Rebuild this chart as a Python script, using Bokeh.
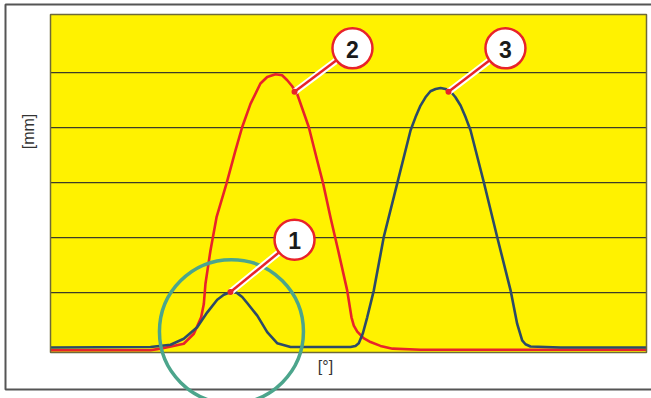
import numpy as np
from bokeh.plotting import figure
from bokeh.models import Range1d, Label, ColumnDataSource
from bokeh.core.properties import value
from bokeh.embed import file_html
from bokeh.resources import INLINE

# ---- data (x in degrees, y in mm) ----
red_x = [0, 60.4, 66.4, 80.5, 86.6, 91.0, 92.6, 93.6, 96.6, 100.3, 106.3, 111.7, 115.8, 120.8,
         126.8, 130.9, 135.9, 139.9, 143.0, 146.0, 149.0, 156.0, 161.1, 164.7, 169.1, 173.8,
         179.2, 181.8, 183.2, 185.3, 189.1, 193.3, 199.3, 206.6, 223.5, 360]
red_y = [-0.05, -0.05, -0.02, 0.07, 0.25, 0.55, 0.79, 1.16, 1.76, 2.37, 2.98, 3.58, 4.01, 4.43,
         4.80, 4.92, 4.97, 4.95, 4.86, 4.75, 4.61, 4.01, 3.40, 2.98, 2.37, 1.76,
         1.04, 0.55, 0.40, 0.29, 0.17, 0.10, 0.03, -0.02, -0.04, -0.04]

blue_x = [0, 60.4, 72.5, 80.5, 88.6, 94.7, 100.7, 104.7, 108.7, 110.7, 112.8, 115.8, 118.8,
          124.9, 130.9, 136.9, 145.0, 181.2, 184.2, 186.2, 188.7, 191.3, 195.3, 201.3, 209.4,
          217.5, 220.5, 223.5, 226.5, 229.5, 232.6, 235.6, 238.6, 241.6, 244.6, 247.7, 250.7,
          253.7, 261.7, 269.8, 277.9, 281.9, 284.9, 286.9, 289.9, 308.1, 360]
blue_y = [0, 0.01, 0.05, 0.16, 0.37, 0.64, 0.87, 0.96, 1.01, 1.01, 0.99, 0.92, 0.81,
          0.58, 0.28, 0.08, 0.01, 0.01, 0.03, 0.08, 0.26, 0.55, 1.04, 2.01, 2.98,
          3.95, 4.19, 4.40, 4.55, 4.66, 4.70, 4.72, 4.70, 4.66, 4.55, 4.40, 4.19,
          3.95, 3.01, 2.01, 1.04, 0.43, 0.13, 0.06, 0.02, 0.0, 0.0]

grid_ticks = [1, 2, 3, 4, 5]

callout_labels = ["1", "2", "3"]
callout_anchor_x = [108.7, 147.4, 240.4]
callout_anchor_y = [1.01, 4.65, 4.65]
callout_badge_x = [147.4, 182.4, 274.8]
callout_badge_y = [1.96, 5.44, 5.44]

highlight_x = [109.3]
highlight_y = [0.29]

x_label = "[°]"
y_label = "[mm]"

# ---- layout (pixels on the page) ----
W, H = 651, 398
PL, PR, PT, PB = 50, 646, 14, 352        # plot area edges
X0, X1 = 0, 360                          # degrees at plot left / right
YB = -0.09                               # mm at plot bottom
sx = (PR - PL) / (X1 - X0)               # px per degree
sy = 55.0                                # px per mm (grid spacing)

def px2x(px):
    return X0 + (px - PL) / sx

def py2y(py):
    return YB + (PB - py) / sy

p = figure(width=W, height=H, output_backend="svg", toolbar_location=None,
           x_range=Range1d(px2x(0), px2x(W)), y_range=Range1d(py2y(H), py2y(0)),
           min_border=0, background_fill_color="white", border_fill_color="white",
           outline_line_color=None,
           styles={"margin-right": "-8px", "margin-bottom": "-8px"})
p.axis.visible = False
p.grid.visible = False

yb, yt = py2y(PB), py2y(PT)
# plot area
p.quad(left=[X0], right=[X1], bottom=[yb], top=[yt], fill_color="#fff200", line_color=None)
p.segment(x0=[X0] * len(grid_ticks), x1=[X1] * len(grid_ticks), y0=grid_ticks, y1=grid_ticks,
          line_color="#3c3c28", line_width=1.2)

# outer frame
fx_l, fx_r = px2x(5), px2x(W + 20)
fy_t, fy_b = py2y(4), py2y(389)
p.line([fx_r, fx_l, fx_l, fx_r], [fy_t, fy_t, fy_b, fy_b], line_color="#555555", line_width=2)

p.line(red_x, red_y, line_color="#e8232a", line_width=2.6, line_join="round")
p.line(blue_x, blue_y, line_color="#2c4a68", line_width=2.6, line_join="round")

p.quad(left=[X0], right=[X1], bottom=[yb], top=[yt], fill_color=None,
       line_color="#6e6a3a", line_width=1.5)

# highlight circle
p.scatter(highlight_x, highlight_y, size=144, fill_color=None, line_color="#4ca58c",
          line_width=3.5)

# leaders
for ax, ay, bx, by in zip(callout_anchor_x, callout_anchor_y, callout_badge_x, callout_badge_y):
    p.line([ax, bx], [ay, by], line_color="white", line_width=6.5)
    p.line([ax, bx], [ay, by], line_color="#e8232a", line_width=2.5)
p.scatter(callout_anchor_x, callout_anchor_y, size=6, fill_color="#e8232a", line_color=None)

src = ColumnDataSource(dict(x=callout_badge_x, y=callout_badge_y, t=callout_labels))
p.scatter("x", "y", source=src, size=40, fill_color="white", line_color="#e8232a", line_width=2.5)
p.text("x", "y", text="t", source=src, text_align="center", text_baseline="middle",
       text_font=value("Liberation Sans"), text_font_style="bold", text_font_size="23px",
       text_color="#1a1a1a", y_offset=1)

p.add_layout(Label(x=px2x(325), y=py2y(366), text=x_label, text_align="center",
                   text_baseline="middle", text_font="Liberation Sans",
                   text_font_size="16px", text_color="#333333"))
p.add_layout(Label(x=px2x(28), y=py2y(131), text=y_label, angle=np.pi / 2,
                   text_align="center", text_baseline="middle",
                   text_font="Liberation Sans", text_font_size="16px",
                   text_color="#333333"))

open("out.html", "w").write(file_html(p, INLINE))
